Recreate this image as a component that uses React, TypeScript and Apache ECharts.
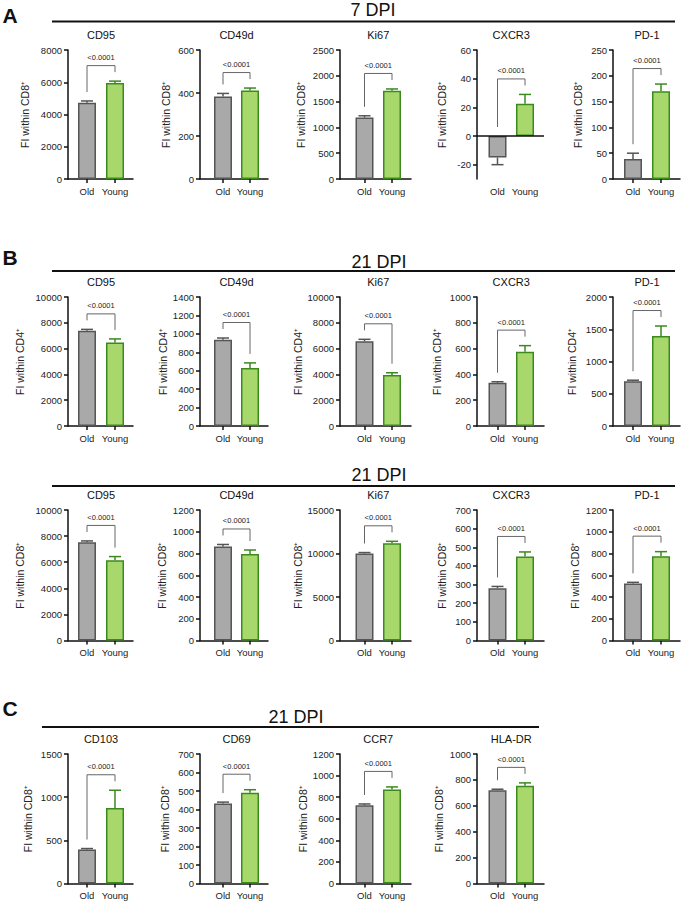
import React, { useEffect, useRef } from "react";
import * as echarts from "echarts";

const groups = ["Old", "Young"];
const pValue = "<0.0001";

// A – 7 DPI, FI within CD8+
const markersA = ["CD95", "CD49d", "Ki67", "CXCR3", "PD-1"];
const oldA = [4730, 384, 1190, -15, 39];
const oldErrA = [110, 14, 35, 5, 11];
const youngA = [5950, 412, 1710, 22.5, 170];
const youngErrA = [120, 11, 35, 6.5, 14];
const yMinA = [0, 0, 0, -30, 0];
const yMaxA = [8000, 600, 2500, 60, 250];
const yStepA = [2000, 200, 500, 20, 50];

// B (top) – 21 DPI, FI within CD4+
const markersB1 = ["CD95", "CD49d", "Ki67", "CXCR3", "PD-1"];
const oldB1 = [7380, 935, 6570, 335, 695];
const oldErrB1 = [110, 20, 150, 8, 15];
const youngB1 = [6470, 630, 3950, 575, 1395];
const youngErrB1 = [280, 55, 180, 48, 155];
const yMinB1 = [0, 0, 0, 0, 0];
const yMaxB1 = [10000, 1400, 10000, 1000, 2000];
const yStepB1 = [2000, 200, 2000, 200, 500];

// B (bottom) – 21 DPI, FI within CD8+
const markersB2 = ["CD95", "CD49d", "Ki67", "CXCR3", "PD-1"];
const oldB2 = [7530, 865, 10000, 280, 525];
const oldErrB2 = [100, 18, 110, 10, 10];
const youngB2 = [6150, 795, 11170, 450, 775];
const youngErrB2 = [280, 37, 230, 25, 42];
const yMinB2 = [0, 0, 0, 0, 0];
const yMaxB2 = [10000, 1200, 15000, 700, 1200];
const yStepB2 = [2000, 200, 5000, 100, 200];

// C – 21 DPI, FI within CD8+
const markersC = ["CD103", "CD69", "CCR7", "HLA-DR"];
const oldC = [395, 433, 725, 720];
const oldErrC = [10, 7, 12, 8];
const youngC = [875, 490, 870, 755];
const youngErrC = [205, 17, 25, 22];
const yMinC = [0, 0, 0, 0];
const yMaxC = [1500, 700, 1200, 1000];
const yStepC = [500, 100, 200, 200];

// ---- layout ----
const FONT = "'Liberation Sans', Arial, Helvetica, sans-serif";
const COL_AXIS = [68, 200, 340, 477, 613];
const COL_END = [133, 268, 411, 544, 680];
const COL_OLD = [87, 223, 364.5, 497.5, 633];
const COL_YOUNG = [115, 250, 392, 525, 661];

const OLD_FILL = "#a9a9a9";
const OLD_EDGE = "#555555";
const YOUNG_FILL = "#a8d86c";
const YOUNG_EDGE = "#3a8a1e";
const AXIS = "#111111";

const rows = [
  { markers: markersA, old: oldA, oldErr: oldErrA, young: youngA, youngErr: youngErrA, yMin: yMinA, yMax: yMaxA, yStep: yStepA, top: 50, height: 129, yName: "FI within CD8⁺", gaps: [38, 29, 34, 30, 30] },
  { markers: markersB1, old: oldB1, oldErr: oldErrB1, young: youngB1, youngErr: youngErrB1, yMin: yMinB1, yMax: yMaxB1, yStep: yStepB1, top: 297, height: 129, yName: "FI within CD4⁺", gaps: [43, 32, 36, 35, 36] },
  { markers: markersB2, old: oldB2, oldErr: oldErrB2, young: youngB2, youngErr: youngErrB2, yMin: yMinB2, yMax: yMaxB2, yStep: yStepB2, top: 510, height: 130.5, yName: "FI within CD8⁺", gaps: [43, 33, 36, 30, 33] },
  { markers: markersC, old: oldC, oldErr: oldErrC, young: youngC, youngErr: youngErrC, yMin: yMinC, yMax: yMaxC, yStep: yStepC, top: 754, height: 129.5, yName: "FI within CD8⁺", gaps: [35, 30, 30, 33] },
];

function makeRender(vals: number[], errs: number[]) {
  return (_params: any, api: any) => {
    const children: any[] = [];
    const tops: number[][] = [];
    for (let i = 0; i < 2; i++) {
      const v = vals[i];
      const e = errs[i];
      const end = v >= 0 ? v + e : v - e;
      const p0 = api.coord([i, v]);
      const p1 = api.coord([i, end]);
      const col = i === 0 ? OLD_EDGE : YOUNG_EDGE;
      children.push({ type: "line", shape: { x1: p0[0], y1: p0[1], x2: p1[0], y2: p1[1] }, style: { stroke: col, lineWidth: 1.5 } });
      children.push({ type: "line", shape: { x1: p1[0] - 6, y1: p1[1], x2: p1[0] + 6, y2: p1[1] }, style: { stroke: col, lineWidth: 1.5 } });
      tops.push(api.coord([i, v >= 0 ? v + e : 0]));
    }
    const by = Math.min(tops[0][1], tops[1][1]) - 15.5;
    children.push({
      type: "polyline",
      shape: { points: [[tops[0][0], tops[0][1] - 9], [tops[0][0], by], [tops[1][0], by], [tops[1][0], tops[1][1] - 9]] },
      style: { stroke: "#666666", lineWidth: 1, fill: null },
    });
    children.push({
      type: "text",
      x: (tops[0][0] + tops[1][0]) / 2,
      y: by - 8,
      style: { text: pValue, fontSize: 7.5, fontFamily: FONT, fill: "#222", align: "center", verticalAlign: "middle", textAlign: "center", textVerticalAlign: "middle" },
    });
    return { type: "group", children };
  };
}

function buildOption() {
  const grid: any[] = [];
  const xAxis: any[] = [];
  const yAxis: any[] = [];
  const series: any[] = [];
  const graphic: any[] = [];
  let k = 0;
  rows.forEach((row) => {
    row.markers.forEach((m, c) => {
      const left = COL_AXIS[c];
      const width = COL_END[c] - COL_AXIS[c];
      const padL = COL_OLD[c] - COL_AXIS[c];
      const padR = COL_END[c] - COL_YOUNG[c];
      const sep = COL_YOUNG[c] - COL_OLD[c];
      const xMin = -padL / sep;
      const xMax = 1 + padR / sep;
      const yMin = row.yMin[c];
      const yMax = row.yMax[c];
      const step = row.yStep[c];
      const aligned = yMin % step === 0;
      const ticks: number[] = [];
      for (let t = Math.ceil(yMin / step) * step; t <= yMax + 1e-9; t += step) ticks.push(t);
      const hasNeg = yMin < 0;

      grid.push({ left, top: row.top, width, height: row.height, containLabel: false, outerBoundsMode: "none" });
      xAxis.push({
        gridIndex: k,
        type: "value",
        min: xMin,
        max: xMax,
        splitLine: { show: false },
        axisLine: { show: !hasNeg, onZero: false, lineStyle: { color: AXIS, width: 1.5 } },
        axisTick: { show: !hasNeg, length: 4, customValues: [0, 1], lineStyle: { color: AXIS, width: 1.5 } },
        axisLabel: {
          customValues: [0, 1],
          formatter: (v: number) => groups[Math.round(v)] ?? "",
          fontSize: 9.5,
          fontFamily: FONT,
          color: "#222",
          margin: 7,
        },
      });
      const yAx: any = {
        gridIndex: k,
        type: "value",
        min: yMin,
        max: yMax,
        splitLine: { show: false },
        axisLine: { show: true, onZero: false, lineStyle: { color: AXIS, width: 1.5 } },
        axisTick: { show: true, length: 4, lineStyle: { color: AXIS, width: 1.5 } },
        axisLabel: { fontSize: 9.5, fontFamily: FONT, color: "#222", margin: 6, formatter: (v: number) => String(v) },
        name: row.yName,
        nameLocation: "middle",
        nameRotate: 90,
        nameGap: row.gaps[c],
        nameTextStyle: { fontSize: 10.5, fontFamily: FONT, color: "#222" },
      };
      if (aligned) {
        yAx.interval = step;
      } else {
        yAx.axisLabel.customValues = ticks;
        yAx.axisTick.customValues = ticks;
      }
      yAxis.push(yAx);

      const barSeries: any = {
        type: "bar",
        xAxisIndex: k,
        yAxisIndex: k,
        barWidth: 18,
        data: [
          { value: [0, row.old[c]], itemStyle: { color: OLD_FILL, borderColor: OLD_EDGE, borderWidth: 1.5 } },
          { value: [1, row.young[c]], itemStyle: { color: YOUNG_FILL, borderColor: YOUNG_EDGE, borderWidth: 1.5 } },
        ],
      };
      if (hasNeg) {
        barSeries.markLine = {
          silent: true,
          symbol: ["none", "none"],
          label: { show: false },
          lineStyle: { color: AXIS, width: 1.5, type: "solid" },
          data: [{ yAxis: 0 }],
        };
      }
      series.push(barSeries);
      series.push({
        type: "custom",
        xAxisIndex: k,
        yAxisIndex: k,
        clip: false,
        z: 5,
        data: [[0, 0]],
        renderItem: makeRender([row.old[c], row.young[c]], [row.oldErr[c], row.youngErr[c]]),
      });

      graphic.push({
        type: "text",
        x: (COL_OLD[c] + COL_YOUNG[c]) / 2,
        y: row.top - 15,
        style: { text: m, fontSize: 11, fontFamily: FONT, fill: "#111", align: "center", verticalAlign: "middle", textAlign: "center", textVerticalAlign: "middle" },
      });
      k++;
    });
  });

  const headers = [
    { letter: "A", ly: 15, title: "7 DPI", tx: 373, ty: 10, lineY: 21.5, x1: 52, x2: 675 },
    { letter: "B", ly: 257, title: "21 DPI", tx: 379, ty: 262, lineY: 271, x1: 52, x2: 675 },
    { letter: "", ly: 0, title: "21 DPI", tx: 379, ty: 475, lineY: 486, x1: 52, x2: 675 },
    { letter: "C", ly: 708, title: "21 DPI", tx: 296, ty: 717, lineY: 727, x1: 42, x2: 539 },
  ];
  headers.forEach((h) => {
    if (h.letter) {
      graphic.push({
        type: "text",
        x: 10,
        y: h.ly,
        style: { text: h.letter, fontSize: 21, fontWeight: "bold", fontFamily: FONT, fill: "#111", align: "center", verticalAlign: "middle", textAlign: "center", textVerticalAlign: "middle" },
      });
    }
    graphic.push({
      type: "text",
      x: h.tx,
      y: h.ty,
      style: { text: h.title, fontSize: 18, fontFamily: FONT, fill: "#111", align: "center", verticalAlign: "middle", textAlign: "center", textVerticalAlign: "middle" },
    });
    graphic.push({
      type: "line",
      shape: { x1: h.x1, y1: h.lineY, x2: h.x2, y2: h.lineY },
      style: { stroke: "#111", lineWidth: 2 },
    });
  });

  return {
    animation: false,
    backgroundColor: "#ffffff",
    grid,
    xAxis,
    yAxis,
    series,
    graphic,
  };
}

export default function App() {
  const ref = useRef<HTMLDivElement>(null);
  useEffect(() => {
    if (!ref.current) return;
    const chart = echarts.init(ref.current, undefined, { renderer: "svg" });
    chart.setOption(buildOption() as any);
    return () => chart.dispose();
  }, []);
  return (
    <div
      ref={ref}
      style={{ position: "fixed", left: 0, top: 0, width: 681, height: 904, background: "#fff" }}
    />
  );
}
